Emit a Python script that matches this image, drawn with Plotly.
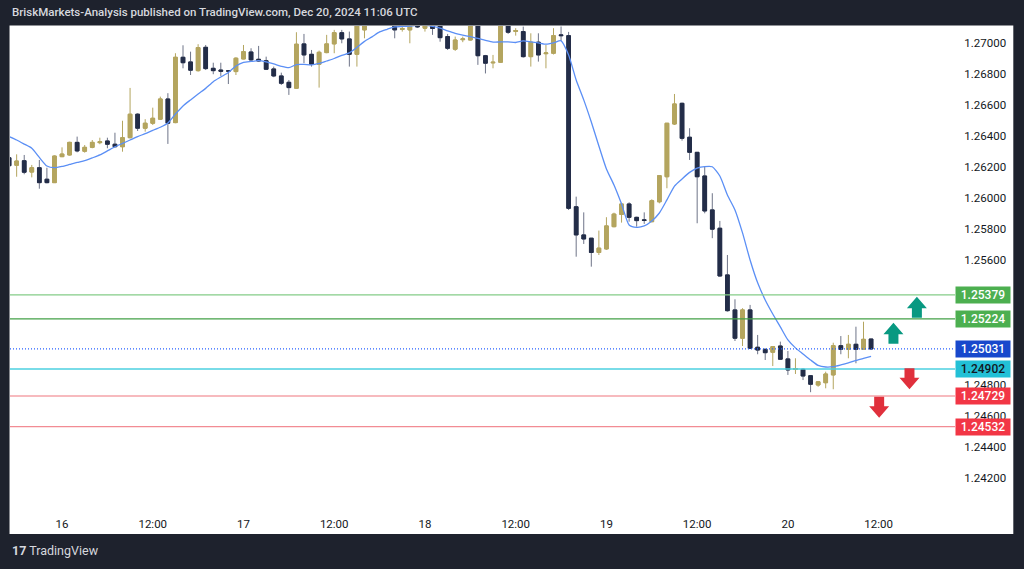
import plotly.graph_objects as go

# ---------------- data (hourly candles, hour index relative to Dec 16 00:00 UTC) ----------------
hours = list(range(-7, 108))

open_ = [1.26260, 1.26212, 1.26241, 1.26168, 1.26196, 1.26122, 1.26100,
         1.26267, 1.26278, 1.26359, 1.26302, 1.26327, 1.26357, 1.26368, 1.26347, 1.26331, 1.26389,
         1.26540, 1.26450, 1.26482, 1.26508, 1.26638, 1.26486, 1.26906, 1.26876, 1.26820, 1.26970,
         1.26835, 1.26824, 1.26819, 1.26814, 1.26895, 1.26940, 1.26893, 1.26884, 1.26831, 1.26786,
         1.26745, 1.26707, 1.26992, 1.26925, 1.26861, 1.26936, 1.26992, 1.27064, 1.27024, 1.26925,
         1.27082, 1.27146, 1.27159, 1.27133, 1.27146, 1.27085, 1.27082, 1.27146, 1.27093, 1.27120,
         1.27120, 1.27039, 1.26958, 1.27019, 1.27017, 1.27114, 1.26916, 1.26870, 1.26874, 1.27120,
         1.27072, 1.27071, 1.26910, 1.27003, 1.26929, 1.26932, 1.27050, 1.27045, 1.25945, 1.25764,
         1.25743, 1.25651, 1.25674, 1.25817, 1.25896, 1.25963, 1.25877, 1.25861, 1.25849, 1.25977,
         1.26138, 1.26477, 1.26610, 1.26392, 1.26295, 1.26143, 1.25925, 1.25807, 1.25507, 1.25282,
         1.25100, 1.25282, 1.25042, 1.25029, 1.25010, 1.25050, 1.24967, 1.24899, 1.24900, 1.24859,
         1.24799, 1.24814, 1.24864, 1.25052, 1.25029, 1.25061, 1.25029, 1.25095]

high = [1.26310, 1.26282, 1.26278, 1.26214, 1.26246, 1.26196, 1.26275,
        1.26327, 1.26363, 1.26396, 1.26342, 1.26374, 1.26389, 1.26389, 1.26421, 1.26498, 1.26709,
        1.26546, 1.26508, 1.26582, 1.26653, 1.26675, 1.26932, 1.26983, 1.26942, 1.26990, 1.26985,
        1.26871, 1.26871, 1.26824, 1.26906, 1.26985, 1.26964, 1.26979, 1.26910, 1.26846, 1.26807,
        1.26760, 1.27067, 1.27056, 1.26953, 1.26949, 1.27050, 1.27082, 1.27082, 1.27071, 1.27146,
        1.27197, 1.27223, 1.27197, 1.27210, 1.27185, 1.27120, 1.27178, 1.27178, 1.27159, 1.27159,
        1.27159, 1.27056, 1.27039, 1.27039, 1.27146, 1.27146, 1.26921, 1.26921, 1.27146, 1.27146,
        1.27093, 1.27103, 1.27060, 1.27060, 1.26985, 1.27093, 1.27104, 1.27069, 1.26010, 1.25909,
        1.25743, 1.25792, 1.25878, 1.25907, 1.25971, 1.25974, 1.25881, 1.25909, 1.25993, 1.26149,
        1.26482, 1.26670, 1.26614, 1.26450, 1.26295, 1.26203, 1.26032, 1.25854, 1.25635, 1.25350,
        1.25293, 1.25314, 1.25121, 1.25031, 1.25050, 1.25078, 1.25018, 1.24971, 1.24905, 1.24863,
        1.24825, 1.24885, 1.25071, 1.25114, 1.25121, 1.25174, 1.25206, 1.25095]

low = [1.26194, 1.26138, 1.26154, 1.26134, 1.26061, 1.26096, 1.26098,
       1.26264, 1.26274, 1.26295, 1.26293, 1.26321, 1.26347, 1.26321, 1.26327, 1.26299, 1.26385,
       1.26432, 1.26428, 1.26471, 1.26503, 1.26349, 1.26482, 1.26835, 1.26792, 1.26814, 1.26824,
       1.26797, 1.26786, 1.26734, 1.26792, 1.26893, 1.26878, 1.26878, 1.26824, 1.26778, 1.26728,
       1.26664, 1.26704, 1.26868, 1.26846, 1.26711, 1.26932, 1.26932, 1.26996, 1.26846, 1.26846,
       1.27028, 1.27133, 1.27120, 1.27120, 1.27028, 1.27071, 1.26996, 1.27094, 1.27071, 1.27050,
       1.27006, 1.26953, 1.26947, 1.27003, 1.27014, 1.26857, 1.26802, 1.26835, 1.26870, 1.27056,
       1.27045, 1.26904, 1.26846, 1.26878, 1.26835, 1.26924, 1.27011, 1.25924, 1.25624, 1.25706,
       1.25560, 1.25635, 1.25668, 1.25813, 1.25843, 1.25849, 1.25817, 1.25835, 1.25845, 1.25967,
       1.26064, 1.26471, 1.26370, 1.26246, 1.25839, 1.25903, 1.25743, 1.25496, 1.25271, 1.25082,
       1.25050, 1.25031, 1.24997, 1.24960, 1.24921, 1.24960, 1.24864, 1.24870, 1.24831, 1.24753,
       1.24788, 1.24778, 1.24772, 1.24997, 1.24971, 1.24939, 1.25029, 1.25024]

close = [1.26209, 1.26239, 1.26167, 1.26196, 1.26100, 1.26100, 1.26271,
         1.26284, 1.26359, 1.26304, 1.26327, 1.26359, 1.26363, 1.26347, 1.26331, 1.26389, 1.26540,
         1.26450, 1.26482, 1.26514, 1.26638, 1.26482, 1.26906, 1.26871, 1.26823, 1.26968, 1.26833,
         1.26820, 1.26816, 1.26817, 1.26900, 1.26942, 1.26889, 1.26882, 1.26829, 1.26786, 1.26739,
         1.26711, 1.26990, 1.26921, 1.26861, 1.26938, 1.26992, 1.27064, 1.27024, 1.26925, 1.27120,
         1.27159, 1.27185, 1.27133, 1.27172, 1.27082, 1.27091, 1.27133, 1.27101, 1.27120, 1.27091,
         1.27032, 1.26964, 1.27017, 1.27024, 1.27114, 1.26916, 1.26868, 1.26874, 1.27120, 1.27067,
         1.27078, 1.26910, 1.27003, 1.26921, 1.26934, 1.27045, 1.27045, 1.25935, 1.25764, 1.25738,
         1.25651, 1.25679, 1.25822, 1.25898, 1.25963, 1.25877, 1.25856, 1.25857, 1.25984, 1.26145,
         1.26482, 1.26606, 1.26385, 1.26295, 1.26138, 1.25918, 1.25801, 1.25500, 1.25277, 1.25100,
         1.25282, 1.25035, 1.25024, 1.25007, 1.25046, 1.24965, 1.24896, 1.24905, 1.24857, 1.24804,
         1.24820, 1.24870, 1.25052, 1.25029, 1.25061, 1.25029, 1.25093, 1.25031]

# moving average line
ma = [1.26396, 1.26374, 1.26348, 1.26321, 1.26262, 1.26207, 1.26196,
      1.26204, 1.26217, 1.26230, 1.26241, 1.26259, 1.26278, 1.26304, 1.26331, 1.26352, 1.26374,
      1.26396, 1.26415, 1.26436, 1.26456, 1.26484, 1.26541, 1.26593, 1.26632, 1.26670, 1.26706,
      1.26749, 1.26779, 1.26808, 1.26850, 1.26873, 1.26879, 1.26884, 1.26876, 1.26863, 1.26848,
      1.26839, 1.26859, 1.26860, 1.26857, 1.26866, 1.26882, 1.26898, 1.26918, 1.26934, 1.26969,
      1.27008, 1.27037, 1.27069, 1.27086, 1.27101, 1.27104, 1.27107, 1.27111, 1.27111, 1.27104,
      1.27093, 1.27075, 1.27059, 1.27048, 1.27039, 1.27027, 1.27014, 1.27003, 1.27005, 1.27005,
      1.27001, 1.27011, 1.27005, 1.26998, 1.26990, 1.26998, 1.27012, 1.26921, 1.26760, 1.26632,
      1.26490, 1.26336, 1.26188, 1.26085, 1.25963, 1.25828, 1.25813, 1.25822, 1.25854, 1.25905,
      1.25989, 1.26078, 1.26124, 1.26166, 1.26193, 1.26203, 1.26202, 1.26143, 1.26021, 1.25925,
      1.25777, 1.25603, 1.25456, 1.25346, 1.25256, 1.25173, 1.25089, 1.25038, 1.24999, 1.24960,
      1.24925, 1.24915, 1.24917, 1.24928, 1.24941, 1.24957, 1.24970, 1.24983]

# horizontal levels
level_prices = [1.25379, 1.25224, 1.25031, 1.24902, 1.24729, 1.24532]
level_labels = ["1.25379", "1.25224", "1.25031", "1.24902", "1.24729", "1.24532"]
level_line_colors = ["#84cc87", "#43a047", "#2962ff", "#4dd0e1", "#f5a3a9", "#f28c94"]
level_box_colors = ["#4caf50", "#4caf50", "#1848cc", "#22c0d6", "#f23645", "#f23645"]
level_text_colors = ["#ffffff", "#ffffff", "#ffffff", "#131722", "#ffffff", "#ffffff"]
level_dash = ["solid", "solid", "1px,2px", "solid", "solid", "solid"]
level_width = [1.2, 1.2, 1.2, 1.6, 1.6, 1.2]

# drawn arrows: (hour, tip price, direction)
arrow_hours = [113.06, 109.96, 112.08, 108.07]
arrow_tips = [1.25367, 1.25200, 1.24772, 1.24588]
arrow_dirs = ["up", "up", "down", "down"]
arrow_colors = ["#089981", "#089981", "#e0303c", "#e0303c"]

# axes (labels hidden behind the level boxes in the reference are left out)
x_tick_vals = [0, 12, 24, 36, 48, 60, 72, 84, 96, 108]
x_tick_text = ["16", "12:00", "17", "12:00", "18", "12:00", "19", "12:00", "20", "12:00"]
y_tick_vals = [1.242, 1.244, 1.246, 1.248, 1.256, 1.258, 1.260, 1.262, 1.264, 1.266, 1.268, 1.270]
y_tick_text = ["%.5f" % v for v in y_tick_vals]

x_range = [-6.88, 118.1]
y_range = [1.24015, 1.27107]

UP = "#b4a55f"
DOWN = "#232d48"
WICK_DOWN = "#6e7488"

fig = go.Figure()

# full candles (wicks)
fig.add_trace(go.Candlestick(
    x=hours, open=open_, high=high, low=low, close=close,
    increasing=dict(line=dict(color=UP, width=1), fillcolor=UP),
    decreasing=dict(line=dict(color=WICK_DOWN, width=1), fillcolor=DOWN),
    hoverinfo="skip", showlegend=False, whiskerwidth=0,
))
# bodies on top (no wick), dark outline for bearish
body_hi = [max(o, c) for o, c in zip(open_, close)]
body_lo = [min(o, c) for o, c in zip(open_, close)]
fig.add_trace(go.Candlestick(
    x=hours, open=open_, high=body_hi, low=body_lo, close=close,
    increasing=dict(line=dict(color=UP, width=1), fillcolor=UP),
    decreasing=dict(line=dict(color=DOWN, width=1), fillcolor=DOWN),
    hoverinfo="skip", showlegend=False, whiskerwidth=0,
))

fig.add_trace(go.Scatter(
    x=hours, y=ma, mode="lines", line=dict(color="#5b8ff5", width=1.3, shape="spline", smoothing=0.6),
    hoverinfo="skip", showlegend=False,
))

shapes = []
# white panel behind everything
shapes.append(dict(type="rect", xref="paper", yref="paper", x0=-0.0005, x1=1.0617,
                   y0=-0.0561, y1=1.001, fillcolor="#ffffff", line=dict(width=0), layer="below"))

for p, col, dash, w in zip(level_prices, level_line_colors, level_dash, level_width):
    shapes.append(dict(type="line", xref="x", yref="y", x0=x_range[0], x1=x_range[1], y0=p, y1=p,
                       line=dict(color=col, width=w, dash=dash), layer="above"))

HW, SW = 1.32, 0.66        # half widths in hours (head / stem)
HH, TL = 0.00074, 0.00135  # head height / total length in price
for h, p, d, col in zip(arrow_hours, arrow_tips, arrow_dirs, arrow_colors):
    s = -1 if d == "up" else 1
    pts = [(h, p), (h + HW, p + s * HH), (h + SW, p + s * HH), (h + SW, p + s * TL),
           (h - SW, p + s * TL), (h - SW, p + s * HH), (h - HW, p + s * HH)]
    path = "M " + " L ".join("%.4f,%.6f" % pt for pt in pts) + " Z"
    shapes.append(dict(type="path", xref="x", yref="y", path=path, fillcolor=col,
                       line=dict(width=0), layer="above"))

annotations = []
for p, lab, bc, tc in zip(level_prices, level_labels, level_box_colors, level_text_colors):
    annotations.append(dict(x=1.0, xref="paper", y=p, yref="y", text=lab, showarrow=False,
                            xanchor="left", yanchor="middle", bgcolor=bc, width=52, height=14,
                            borderpad=1, font=dict(color=tc, size=12, family="Roboto", weight=500)))

annotations.append(dict(x=0, xref="paper", y=1.029, yref="paper",
                        text="BriskMarkets-Analysis published on TradingView.com, Dec 20, 2024 11:06 UTC",
                        showarrow=False, xanchor="left", yanchor="middle",
                        font=dict(color="#d6d8de", size=11.5, family="Roboto", weight=500)))
annotations.append(dict(x=0, xref="paper", y=-0.09, yref="paper",
                        text="<b>17</b> TradingView", showarrow=False, xanchor="left", yanchor="middle",
                        font=dict(color="#d6d8de", size=12.5, family="Roboto")))

fig.update_layout(
    width=1024, height=569,
    margin=dict(l=10, r=69, t=26, b=62),
    paper_bgcolor="#1e222d", plot_bgcolor="#ffffff",
    shapes=shapes, annotations=annotations,
    showlegend=False,
    xaxis=dict(range=x_range, tickvals=x_tick_vals, ticktext=x_tick_text, showgrid=False,
               zeroline=False, showline=False, ticks="outside", ticklen=6, tickcolor="rgba(0,0,0,0)",
               tickfont=dict(color="#131722", size=11.5, family="Roboto"),
               rangeslider=dict(visible=False), fixedrange=True),
    yaxis=dict(range=y_range, side="right", tickvals=y_tick_vals, ticktext=y_tick_text, showgrid=False,
               zeroline=False, showline=False, ticks="outside", ticklen=6, tickcolor="rgba(0,0,0,0)",
               tickfont=dict(color="#131722", size=11.5, family="Roboto"), fixedrange=True),
)

fig.write_html("out.html")
